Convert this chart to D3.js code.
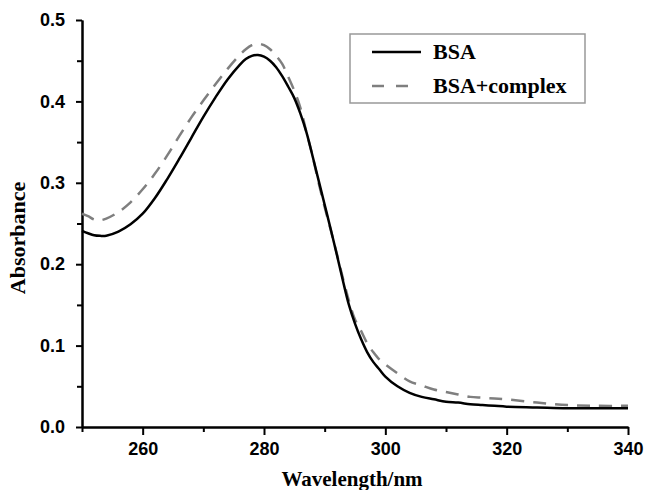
<!DOCTYPE html>
<html>
<head>
<meta charset="utf-8">
<script src="https://cdn.jsdelivr.net/npm/d3@7"></script>
<style>
  html, body { margin: 0; padding: 0; background: #fff; }
  svg { display: block; }
</style>
</head>
<body>
<svg id="chart" width="645" height="490"></svg>
<script>
// ---- data ----
const wavelengths = [250,251,252,253,254,256,258,260,262,264,266,268,270,272,274,276,277,278,279,280,281,282,283,284,285,286,287,288,289,290,291,292,293,294,295,296,297,298,299,300,302,304,306,308,310,312,314,316,318,320,325,330,335,340];
const bsa = [0.241,0.238,0.2355,0.2348,0.235,0.240,0.249,0.262,0.281,0.304,0.329,0.355,0.381,0.405,0.427,0.445,0.452,0.456,0.457,0.455,0.450,0.442,0.431,0.418,0.404,0.385,0.362,0.333,0.303,0.273,0.243,0.212,0.180,0.150,0.127,0.108,0.092,0.080,0.071,0.062,0.050,0.042,0.037,0.034,0.031,0.030,0.028,0.027,0.026,0.025,0.024,0.023,0.023,0.023];
const bsaComplex = [0.262,0.259,0.255,0.254,0.256,0.264,0.276,0.292,0.311,0.333,0.357,0.380,0.401,0.421,0.440,0.457,0.464,0.469,0.471,0.469,0.464,0.456,0.446,0.430,0.413,0.392,0.362,0.333,0.300,0.270,0.242,0.213,0.183,0.155,0.132,0.118,0.103,0.092,0.083,0.077,0.066,0.056,0.051,0.046,0.043,0.040,0.037,0.036,0.035,0.034,0.030,0.027,0.026,0.026];
const xMajorTicks = [260,280,300,320,340];
const xMinorTicks = [250,270,290,310,330];
const yMajorTicks = [0,0.1,0.2,0.3,0.4,0.5];
const yMinorTicks = [0.05,0.15,0.25,0.35,0.45];
const seriesNames = ["BSA","BSA+complex"];
const xTitle = "Wavelength/nm";
const yTitle = "Absorbance";

// ---- layout ----
const svg = d3.select("#chart");
const plotL = 82, plotR = 628, plotT = 20, plotB = 427;
const x = d3.scaleLinear().domain([250,340]).range([plotL,plotR]);
const y = d3.scaleLinear().domain([0,0.5]).range([plotB,plotT]);

const tickFont = "'Liberation Sans', Arial, sans-serif";
const titleFont = "'Liberation Serif', 'Times New Roman', serif";

function styleAxis(g) {
  g.selectAll("path.domain").attr("stroke","#000").attr("stroke-width",2);
  g.selectAll(".tick line").attr("stroke","#000").attr("stroke-width",2);
  g.selectAll(".tick text").attr("fill","#000").attr("font-family",tickFont)
    .attr("font-weight","bold").attr("font-size","18px");
}

// minor ticks
svg.append("g").attr("transform",`translate(0,${plotB})`)
  .call(d3.axisBottom(x).tickValues(xMinorTicks).tickSize(5).tickSizeOuter(0).tickFormat(""))
  .call(styleAxis);
svg.append("g").attr("transform",`translate(${plotL},0)`)
  .call(d3.axisLeft(y).tickValues(yMinorTicks).tickSize(5).tickSizeOuter(0).tickFormat(""))
  .call(styleAxis);

// major
svg.append("g").attr("transform",`translate(0,${plotB})`)
  .call(d3.axisBottom(x).tickValues(xMajorTicks).tickSize(8).tickSizeOuter(0).tickPadding(7).tickFormat(d3.format("d")))
  .call(styleAxis);
svg.append("g").attr("transform",`translate(${plotL},0)`)
  .call(d3.axisLeft(y).tickValues(yMajorTicks).tickSize(6).tickSizeOuter(0).tickPadding(11).tickFormat(d3.format(".1f")))
  .call(styleAxis);

// titles
svg.append("text").attr("x",(plotL+plotR)/2 - 3).attr("y",486)
  .attr("text-anchor","middle").attr("font-family",titleFont).attr("font-weight","bold")
  .attr("font-size","21px").attr("fill","#000").text(xTitle);
svg.append("text").attr("transform","translate(25,238) rotate(-90)")
  .attr("text-anchor","middle").attr("font-family",titleFont).attr("font-weight","bold")
  .attr("font-size","22px").attr("fill","#000").text(yTitle);

// lines
const line = d3.line().x(d => x(d[0])).y(d => y(d[1])).curve(d3.curveCatmullRom.alpha(0.5));
svg.append("path").datum(wavelengths.map((w,i)=>[w,bsaComplex[i]]))
  .attr("fill","none").attr("stroke","#7f7f7f").attr("stroke-width",2.5)
  .attr("stroke-dasharray","13,9").attr("d",line);
svg.append("path").datum(wavelengths.map((w,i)=>[w,bsa[i]]))
  .attr("fill","none").attr("stroke","#000").attr("stroke-width",2.5).attr("d",line);

// legend
const lg = svg.append("g");
lg.append("rect").attr("x",350).attr("y",34).attr("width",235).attr("height",69)
  .attr("fill","#fff").attr("stroke","#999").attr("stroke-width",1.5);
lg.append("line").attr("x1",372).attr("x2",421).attr("y1",52).attr("y2",52)
  .attr("stroke","#000").attr("stroke-width",2.5);
lg.append("line").attr("x1",372).attr("x2",408).attr("y1",86).attr("y2",86)
  .attr("stroke","#7f7f7f").attr("stroke-width",2.5).attr("stroke-dasharray","12,12");
lg.selectAll("text.leg").data(seriesNames).enter().append("text")
  .attr("x",433).attr("y",(d,i)=> i===0 ? 59 : 93)
  .attr("font-family",titleFont).attr("font-weight","bold").attr("font-size","22px")
  .attr("fill","#000").text(d=>d);
</script>
</body>
</html>
